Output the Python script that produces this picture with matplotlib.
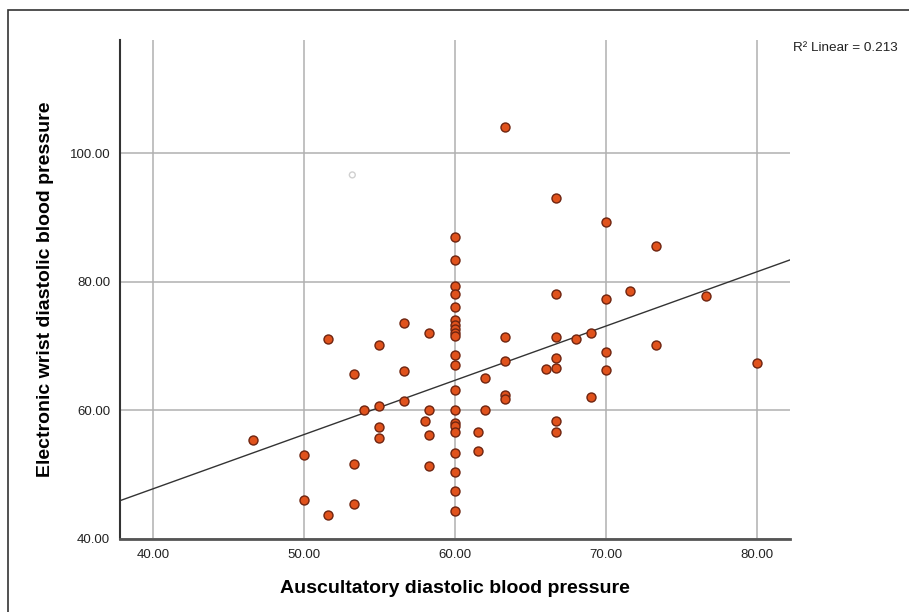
import numpy as np
import matplotlib.pyplot as plt
from matplotlib.patches import Rectangle

plt.rcParams['font.family'] = ['Liberation Sans', 'DejaVu Sans']

# auscultatory (x) vs electronic wrist (y) diastolic BP
x_vals = [46.6, 50.0, 50.0, 51.6, 51.6, 53.3, 53.3, 53.3, 54.0,
          55.0, 55.0, 55.0, 55.0, 56.6, 56.6, 56.6, 58.0,
          58.3, 58.3, 58.3, 58.3,
          60.0, 60.0, 60.0, 60.0, 60.0, 60.0, 60.0, 60.0, 60.0, 60.0, 60.0,
          60.0, 60.0, 60.0, 60.0, 60.0, 60.0, 60.0, 60.0, 60.0, 60.0,
          61.5, 61.5, 62.0, 62.0,
          63.3, 63.3, 63.3, 63.3, 63.3,
          66.0, 66.7, 66.7, 66.7, 66.7, 66.7, 66.7, 66.7,
          68.0, 69.0, 69.0, 70.0, 70.0, 70.0, 70.0,
          71.6, 73.3, 73.3, 76.6, 80.0]
y_vals = [55.4, 53.1, 46.1, 71.1, 43.7, 65.7, 51.7, 45.4, 60.1,
          70.1, 60.7, 57.4, 55.7, 73.6, 66.1, 61.4, 58.4,
          72.1, 60.1, 56.1, 51.4,
          87.0, 83.3, 79.4, 78.1, 76.0, 74.1, 73.3, 72.6, 72.0, 71.5, 68.6,
          67.1, 63.1, 60.1, 58.1, 57.5, 56.7, 53.3, 50.4, 47.4, 44.4,
          56.7, 53.7, 65.1, 60.1,
          104.0, 71.4, 67.7, 62.4, 61.8,
          66.4, 93.0, 78.1, 71.4, 68.1, 66.6, 58.4, 56.6,
          71.1, 72.1, 62.1, 89.3, 77.3, 69.0, 66.3,
          78.6, 85.6, 70.1, 77.7, 67.3]

# faint, unselected case
faint_x = [53.2]
faint_y = [96.6]

r2_text = "R² Linear = 0.213"
x_ticks = [40, 50, 60, 70, 80]
y_ticks = [40, 60, 80, 100]

fig = plt.figure(figsize=(9.09, 6.12), dpi=100)
ax = fig.add_axes([0.132, 0.1193, 0.737, 0.8153])

ax.set_xlim(37.81, 82.19)
ax.set_ylim(40, 117.57)

ax.set_xticks(x_ticks)
ax.set_yticks(y_ticks)
ax.set_xticklabels([f"{t:.2f}" for t in x_ticks])
ax.set_yticklabels([f"{t:.2f}" for t in y_ticks])
ax.tick_params(length=0, labelsize=9.5, colors='#222222', pad=7)

ax.grid(True, color='#b0b0b0', linewidth=1.1)
ax.set_axisbelow(True)

for side in ['top', 'right']:
    ax.spines[side].set_visible(False)
ax.spines['left'].set_color('#333333')
ax.spines['left'].set_linewidth(1.5)
ax.spines['bottom'].set_color('#555555')
ax.spines['bottom'].set_linewidth(2)

# fit line
xs = np.array(x_vals)
ys = np.array(y_vals)
slope, intercept = np.polyfit(xs, ys, 1)
lx = np.array(ax.get_xlim())
ax.plot(lx, slope * lx + intercept, color='#333333', linewidth=1, zorder=2)

ax.scatter(x_vals, y_vals, s=42, color='#e0521c', edgecolor='#6e2410',
           linewidth=1, zorder=3)
ax.scatter(faint_x, faint_y, s=18, facecolor='none', edgecolor='#d0d0d0',
           linewidth=1, zorder=3)

ax.set_xlabel("Auscultatory diastolic blood pressure", fontsize=14,
              fontweight='bold', labelpad=14)
ax.set_ylabel("Electronic wrist diastolic blood pressure", fontsize=14,
              fontweight='bold', labelpad=11)

fig.text(0.872, 1 - 48 / 612, r2_text, fontsize=9.7, color='#222222',
         va='center')

# outer frame
fig.add_artist(Rectangle((8 / 909, -0.1), 1.2, 1 - 10 / 612 + 0.1,
                         transform=fig.transFigure, fill=False,
                         edgecolor='#333333', linewidth=1.2))

fig.savefig("out.png", dpi=100)
